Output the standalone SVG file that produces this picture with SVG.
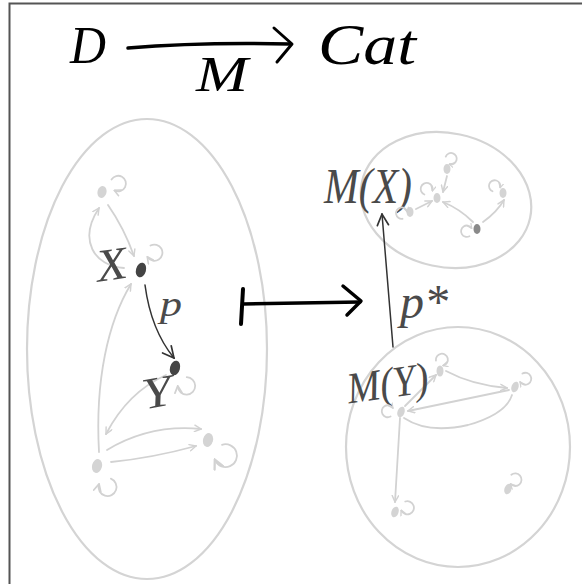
<svg xmlns="http://www.w3.org/2000/svg" width="582" height="584" viewBox="0 0 582 584">
<defs>
<style>
.bg{fill:#fff}
.frame{stroke:#555;stroke-width:2;fill:none}
.blob{fill:none;stroke:#d4d4d4;stroke-width:2.2}
.le{fill:none;stroke:#d2d2d2;stroke-width:1.8;stroke-linecap:round}
.lp{fill:none;stroke:#d2d2d2;stroke-width:1.8;stroke-linecap:round;vector-effect:non-scaling-stroke}
.de{fill:none;stroke:#333;stroke-width:1.5;stroke-linecap:round}
.ln{fill:#d4d4d4}
.mn{fill:#8a8a8a}
.dn{fill:#444}
.title{font-family:"Liberation Serif","DejaVu Serif",serif;font-style:italic;fill:#000}
.lab{font-family:"Liberation Serif","DejaVu Serif",serif;font-style:italic;fill:#4a4a4a}
.thick{fill:none;stroke:#000;stroke-linecap:round;stroke-linejoin:round}
</style>
<marker id="la" viewBox="0 0 10 10" refX="9" refY="5" markerWidth="8" markerHeight="8" markerUnits="userSpaceOnUse" orient="auto">
<path d="M1,1 L9,5 L1,9" fill="none" stroke="#d2d2d2" stroke-width="1.8" stroke-linecap="round"/>
</marker>
<marker id="da" viewBox="0 0 10 10" refX="9" refY="5" markerWidth="14" markerHeight="14" markerUnits="userSpaceOnUse" orient="auto">
<path d="M1,1 L9,5 L1,9" fill="none" stroke="#333" stroke-width="1.2" stroke-linecap="round"/>
</marker>
<marker id="lla" viewBox="0 0 10 10" refX="8" refY="5" markerWidth="6" markerHeight="6" markerUnits="userSpaceOnUse" orient="auto">
<path d="M1,1 L9,5 L1,9" fill="none" stroke="#d2d2d2" stroke-width="2" stroke-linecap="round"/>
</marker>
<path id="loop" d="M-3.5,-5 A6,6 0 1 1 -4,4" class="lp" marker-end="url(#lla)"/>
</defs>
<rect class="bg" x="0" y="0" width="582" height="584"/>
<path class="frame" d="M9.5,584 L9.5,3.5 L582,3.5"/>

<g id="title">
<text class="title" x="70" y="63" font-size="52" textLength="36" lengthAdjust="spacingAndGlyphs">D</text>
<path class="thick" d="M128,48 Q200,42 290,44" stroke-width="3.5"/>
<path class="thick" d="M274,28 L292,44 L277,62" stroke-width="3"/>
<text class="title" x="196" y="91" font-size="50" textLength="52" lengthAdjust="spacingAndGlyphs">M</text>
<text class="title" x="318" y="64" font-size="58" textLength="98" lengthAdjust="spacingAndGlyphs">Cat</text>
</g>

<g id="blob-D">
<ellipse class="blob" cx="147" cy="349" rx="120" ry="230"/>
</g>
<g id="blob-MX">
<ellipse class="blob" cx="446" cy="200" rx="86" ry="67" transform="rotate(12 446 200)"/>
</g>
<g id="blob-MY">
<ellipse class="blob" cx="458" cy="447" rx="112" ry="120"/>
</g>

<g id="connectors">
<path class="le" d="M108,205 Q124,228 134,256" marker-end="url(#la)"/>
<path class="le" d="M124,268 C94,266 78,240 99,208" marker-end="url(#la)"/>
<path class="le" d="M99,452 C95,380 108,322 131,284" marker-end="url(#la)"/>
<path class="de" d="M145,285 Q151,330 174,358" marker-end="url(#da)"/>
<path class="le" d="M166,375 Q128,392 106,434" marker-end="url(#la)"/>
<path class="le" d="M107,450 Q150,424 201,429" marker-end="url(#la)"/>
<path class="le" d="M111,462 Q152,458 196,446" marker-end="url(#la)"/>

<path class="le" d="M416,209 L432,201" marker-end="url(#la)"/>
<path class="le" d="M447,176 L443,192" marker-end="url(#la)"/>
<path class="le" d="M473,222 Q460,209 443,202" marker-end="url(#la)"/>
<path class="le" d="M483,222 Q497,212 504,200" marker-end="url(#la)"/>

<path class="le" d="M405,406 L436,375" marker-end="url(#la)"/>
<path class="le" d="M446,371 Q472,385 507,388" marker-end="url(#la)"/>
<path class="le" d="M509,390 Q460,400 408,411" marker-end="url(#la)"/>
<path class="le" d="M404,418 Q428,434 468,425 Q506,414 512,395"/>
<path class="le" d="M400,418 L395,502" marker-end="url(#la)"/>

<path class="de" d="M393,347 L382,214" marker-end="url(#da)"/>

<g id="mapsto">
<path class="thick" d="M243,289 L241,324" stroke-width="4"/>
<path class="thick" d="M243,304 L360,302" stroke-width="3.5"/>
<path class="thick" d="M343,286 L361,301 L347,315" stroke-width="3.5"/>
</g>
</g>

<g id="node-D1">
<ellipse class="ln" cx="102" cy="192" rx="4.5" ry="6" transform="rotate(15 102 192)"/>
<use href="#loop" transform="translate(118,184) rotate(-20) scale(1.3)"/>
</g>
<g id="node-X">
<ellipse class="dn" cx="141" cy="270" rx="5" ry="7.5" transform="rotate(15 141 270)"/>
<use href="#loop" transform="translate(154,253) rotate(10) scale(1.35)"/>
<text class="lab" x="96" y="280" font-size="46" textLength="31" lengthAdjust="spacingAndGlyphs" transform="rotate(-8 110 265)">X</text>
</g>
<text id="label-p" class="lab" x="160" y="316" font-size="36" textLength="22" lengthAdjust="spacingAndGlyphs">p</text>
<g id="node-Y">
<ellipse class="dn" cx="175" cy="368" rx="5" ry="7.5" transform="rotate(15 175 368)"/>
<use href="#loop" transform="translate(186,386) rotate(40) scale(1.45)"/>
<text class="lab" x="142" y="407" font-size="44" textLength="30" lengthAdjust="spacingAndGlyphs" transform="rotate(-10 156 392)">Y</text>
</g>
<g id="node-D3">
<ellipse class="ln" cx="97" cy="466" rx="5" ry="7" transform="rotate(15 97 466)"/>
<use href="#loop" transform="translate(107,487) rotate(60) scale(1.5)"/>
</g>
<g id="node-D4">
<ellipse class="ln" cx="208" cy="440" rx="5" ry="7" transform="rotate(15 208 440)"/>
<use href="#loop" transform="translate(225,456) rotate(20) scale(1.9)"/>
</g>

<g id="node-MX">
<text class="lab" x="324" y="203" font-size="50" textLength="88" lengthAdjust="spacingAndGlyphs">M(X)</text>
</g>
<text id="label-pstar" class="lab" x="400" y="318" font-size="48" textLength="48" lengthAdjust="spacingAndGlyphs">p*</text>
<g id="node-MY">
<text class="lab" x="346" y="398" font-size="44" textLength="82" lengthAdjust="spacingAndGlyphs" transform="rotate(-8 386 380)">M(Y)</text>
</g>

<g id="node-X1"><ellipse class="ln" cx="447" cy="169" rx="3.5" ry="5"/><use href="#loop" transform="translate(451,159) rotate(-30) scale(0.95)"/></g>
<g id="node-X2"><ellipse class="ln" cx="437" cy="198" rx="3.5" ry="5"/><use href="#loop" transform="translate(427,189) rotate(-120) scale(1)"/></g>
<g id="node-X3"><ellipse class="ln" cx="410" cy="212" rx="3.5" ry="5"/><use href="#loop" transform="translate(402,213) rotate(-150) scale(0.95)"/></g>
<g id="node-X4"><ellipse class="ln" cx="503" cy="193" rx="3.5" ry="5"/><use href="#loop" transform="translate(495,186) rotate(-120) scale(0.95)"/></g>
<g id="node-X5"><ellipse class="mn" cx="477" cy="229" rx="3.5" ry="5"/><use href="#loop" transform="translate(467,231) rotate(-170) scale(0.95)"/></g>

<g id="node-Y1"><ellipse class="ln" cx="440" cy="371" rx="3.5" ry="5.5"/><use href="#loop" transform="translate(442,360) rotate(-60) scale(1)"/></g>
<g id="node-Y2"><ellipse class="ln" cx="515" cy="387" rx="3.5" ry="5.5" transform="rotate(20 515 387)"/><use href="#loop" transform="translate(525,379) rotate(10) scale(1)"/></g>
<g id="node-Y3"><ellipse class="ln" cx="401" cy="412" rx="3.5" ry="5.5" transform="rotate(20 401 412)"/><use href="#loop" transform="translate(388,411) rotate(-170) scale(1)"/></g>
<g id="node-Y4"><ellipse class="ln" cx="395" cy="512" rx="3.5" ry="5.5" transform="rotate(20 395 512)"/><use href="#loop" transform="translate(407,508) rotate(20) scale(1.1)"/></g>
<g id="node-Y5"><ellipse class="ln" cx="508" cy="489" rx="3.5" ry="5.5" transform="rotate(20 508 489)"/><use href="#loop" transform="translate(515,480) rotate(0) scale(1.05)"/></g>
</svg>
